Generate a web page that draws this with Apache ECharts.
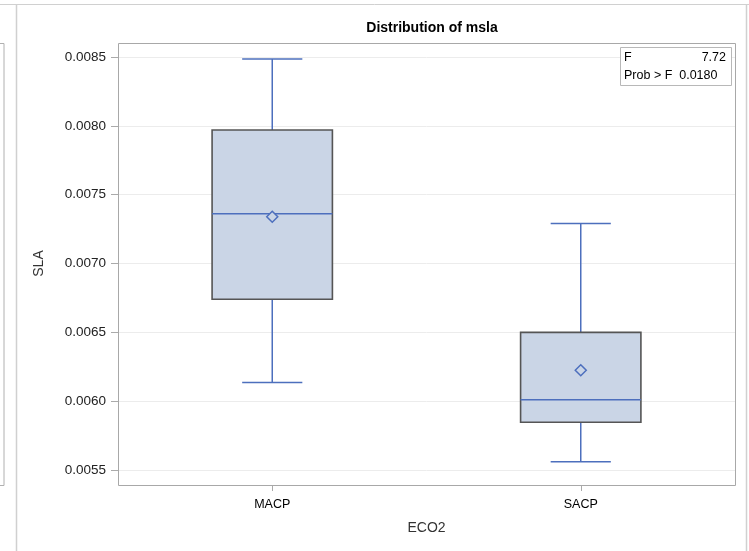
<!DOCTYPE html>
<html>
<head>
<meta charset="utf-8">
<script src="https://cdn.jsdelivr.net/npm/echarts@6/dist/echarts.min.js"></script>
<style>html,body{margin:0;padding:0;background:#fff;}#c{width:749px;height:551px;}</style>
</head>
<body>
<div id="c"></div>
<script>
var categories = ['MACP', 'SACP'];
var whiskerLow = [0.006135, 0.00556];
var q1Values = [0.00674, 0.005847];
var medians = [0.007362, 0.00601];
var q3Values = [0.00797, 0.0065];
var whiskerHigh = [0.008485, 0.00729];
var means = [0.00734, 0.006225];
var yTicks = [0.0055, 0.0085, 0.0005];
var fStat = '7.72';
var probF = '0.0180';

var FONT = 'Liberation Sans, Arial, Helvetica, sans-serif';
var BLUE = '#4d6fbd';
var FILL = '#cad5e6';

var boxData = categories.map(function (c, i) {
  return [i, whiskerLow[i], q1Values[i], medians[i], q3Values[i], whiskerHigh[i]];
});
var meanData = categories.map(function (c, i) { return [i, means[i]]; });

var chart = echarts.init(document.getElementById('c'), null, {renderer: 'canvas'});
chart.setOption({
  backgroundColor: '#fff',
  animation: false,
  title: {
    text: 'Distribution of msla',
    left: 427, top: 16, textAlign: 'center',
    textStyle: {fontFamily: FONT, fontSize: 14, fontWeight: 'bold', color: '#000'}
  },
  grid: {left: 118, right: 14, top: 57, bottom: 81, containLabel: false},
  xAxis: {
    type: 'category',
    data: categories,
    offset: 16,
    name: 'ECO2',
    nameLocation: 'middle',
    nameGap: 35,
    nameTextStyle: {fontFamily: FONT, fontSize: 14, color: '#333'},
    axisLine: {show: false},
    axisTick: {show: true, alignWithLabel: true, length: 5, lineStyle: {color: '#aaa'}},
    axisLabel: {fontFamily: FONT, fontSize: 12.5, color: '#000', margin: 12},
    splitLine: {show: false}
  },
  yAxis: {
    type: 'value',
    min: yTicks[0], max: yTicks[1], interval: yTicks[2],
    name: 'SLA',
    nameLocation: 'middle',
    nameGap: 72,
    nameTextStyle: {fontFamily: FONT, fontSize: 14, color: '#333'},
    axisLine: {show: false},
    axisTick: {show: true, length: 7, lineStyle: {color: '#aaa'}},
    axisLabel: {fontFamily: FONT, fontSize: 13.5, color: '#222', margin: 12,
      formatter: function (v) { return v.toFixed(4); }},
    splitLine: {show: true, lineStyle: {color: '#ececec', width: 1}}
  },
  graphic: [
    {type: 'line', shape: {x1: 0, y1: 4.5, x2: 749, y2: 4.5}, style: {stroke: '#d0d0d0', lineWidth: 1}, z: 0},
    {type: 'line', shape: {x1: 16.5, y1: 4, x2: 16.5, y2: 551}, style: {stroke: '#d0d0d0', lineWidth: 1.5}, z: 0},
    {type: 'line', shape: {x1: 746.5, y1: 4, x2: 746.5, y2: 551}, style: {stroke: '#d0d0d0', lineWidth: 1.5}, z: 0},
    {type: 'rect', shape: {x: -20, y: 43.5, width: 24, height: 442}, style: {fill: 'none', stroke: '#b0b0b0', lineWidth: 1}, z: 0},
    {type: 'rect', shape: {x: 118.5, y: 43.5, width: 617, height: 442}, style: {fill: 'none', stroke: '#a8a8a8', lineWidth: 1}, z: 10},
    {type: 'rect', shape: {x: 620.5, y: 47.5, width: 111, height: 38}, style: {fill: '#fff', stroke: '#b8b8b8', lineWidth: 1}, z: 20},
    {type: 'text', left: 624, top: 51, style: {text: 'F', fontFamily: FONT, fontSize: 12.5, fill: '#000'}, z: 21},
    {type: 'text', right: 23, top: 51, style: {text: fStat, fontFamily: FONT, fontSize: 12.5, fill: '#000', textAlign: 'right'}, z: 21},
    {type: 'text', left: 624, top: 69, style: {text: 'Prob > F  ' + probF, fontFamily: FONT, fontSize: 12.5, fill: '#000'}, z: 21}
  ],
  series: [
    {
      type: 'custom',
      data: boxData,
      z: 3,
      renderItem: function (params, api) {
        var idx = api.value(0);
        var band = api.size([1, 0])[0];
        var bw = band * 0.39;
        var cw = bw / 2;
        var pLow = api.coord([idx, api.value(1)]);
        var pQ1 = api.coord([idx, api.value(2)]);
        var pMed = api.coord([idx, api.value(3)]);
        var pQ3 = api.coord([idx, api.value(4)]);
        var pHigh = api.coord([idx, api.value(5)]);
        var x = pMed[0];
        var ls = {stroke: BLUE, lineWidth: 1.5};
        return {
          type: 'group',
          children: [
            {type: 'line', shape: {x1: x, y1: pHigh[1], x2: x, y2: pQ3[1]}, style: ls},
            {type: 'line', shape: {x1: x, y1: pQ1[1], x2: x, y2: pLow[1]}, style: ls},
            {type: 'line', shape: {x1: x - cw / 2, y1: pHigh[1], x2: x + cw / 2, y2: pHigh[1]}, style: ls},
            {type: 'line', shape: {x1: x - cw / 2, y1: pLow[1], x2: x + cw / 2, y2: pLow[1]}, style: ls},
            {type: 'rect', shape: {x: x - bw / 2, y: pQ3[1], width: bw, height: pQ1[1] - pQ3[1]},
              style: {fill: FILL, stroke: '#555', lineWidth: 1.6}},
            {type: 'line', shape: {x1: x - bw / 2, y1: pMed[1], x2: x + bw / 2, y2: pMed[1]}, style: ls}
          ]
        };
      }
    },
    {
      type: 'scatter',
      data: meanData,
      z: 5,
      symbol: 'diamond',
      symbolSize: [11, 11],
      itemStyle: {color: FILL, borderColor: BLUE, borderWidth: 1.5, opacity: 1}
    }
  ]
});
</script>
</body>
</html>
